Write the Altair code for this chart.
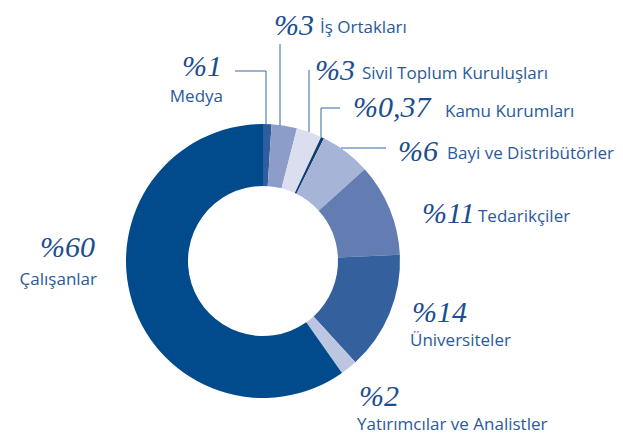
import altair as alt
import pandas as pd

# ---- data ----
categories = ["Medya", "İş Ortakları", "Sivil Toplum Kuruluşları", "Kamu Kurumları",
              "Bayi ve Distribütörler", "Tedarikçiler", "Üniversiteler",
              "Yatırımcılar ve Analistler", "Çalışanlar"]
values = [1, 3, 3, 0.37, 6, 11, 14, 2, 60]
pct_labels = ["%1", "%3", "%3", "%0,37", "%6", "%11", "%14", "%2", "%60"]
slice_colors = ["#2e5e9f", "#8c9dc9", "#dbdeee", "#0d3b6e", "#a6b4d7",
                "#637db3", "#34619d", "#bcc6e1", "#014a8c"]

# ---- layout (pixels within the plot area) ----
CX, CY, R_OUT, R_IN = 255, 253, 137, 75
pct_pos = [(214, 68, "right"), (266, 27, "left"), (307, 72, "left"), (345, 109, "left"),
           (390, 153, "left"), (414, 215, "left"), (404, 314, "left"), (351, 398, "left"),
           (87, 249, "right")]
name_pos = [(215, 94, "right"), (312, 25, "left"), (354, 71, "left"), (437, 109, "left"),
            (439, 151, "left"), (470, 214, "left"), (402, 338, "left"), (349, 422, "left"),
            (89, 277, "right")]
leaders = [(227, 63, 258, 63), (258, 63, 258, 116), (272, 36, 272, 118),
           (301, 62, 301, 124), (313, 100, 332, 100), (313, 100, 313, 129),
           (333, 140, 378, 140)]

df = pd.DataFrame({"cat": categories, "value": values, "idx": list(range(len(values)))})

arc = alt.Chart(df).mark_arc(radius=R_OUT, radius2=R_IN, stroke=None).encode(
    theta=alt.Theta("value:Q", stack=True),
    order=alt.Order("idx:Q"),
    color=alt.Color("cat:N", scale=alt.Scale(domain=categories, range=slice_colors), legend=None),
    x=alt.value(CX), y=alt.value(CY),
)

pct_df = pd.DataFrame({"t": pct_labels, "x": [p[0] for p in pct_pos], "y": [p[1] for p in pct_pos],
                       "a": [p[2] for p in pct_pos]})
name_df = pd.DataFrame({"t": categories, "x": [p[0] for p in name_pos], "y": [p[1] for p in name_pos],
                        "a": [p[2] for p in name_pos]})

def text_layer(d, align, **kw):
    return alt.Chart(d[d["a"] == align]).mark_text(align=align, baseline="alphabetic", **kw).encode(
        x=alt.X("x:Q", scale=None), y=alt.Y("y:Q", scale=None), text="t:N")

pct_style = dict(font="Liberation Serif", fontStyle="italic", fontSize=30, color="#1c4d8f")
name_style = dict(font="Open Sans", fontSize=17, color="#2a5a9a")

lead_df = pd.DataFrame(leaders, columns=["x", "y", "x2", "y2"])
lines = alt.Chart(lead_df).mark_rule(color="#3a66a6", strokeWidth=1).encode(
    x=alt.X("x:Q", scale=None), y=alt.Y("y:Q", scale=None),
    x2="x2:Q", y2="y2:Q")

chart = alt.layer(
    arc, lines,
    text_layer(pct_df, "left", **pct_style), text_layer(pct_df, "right", **pct_style),
    text_layer(name_df, "left", **name_style), text_layer(name_df, "right", **name_style),
).properties(
    width=607, height=427, padding=0, autosize=alt.AutoSizeParams(type="none")
).configure_view(stroke=None)

chart.save("out.html", embed_options={"renderer": "svg", "actions": False})
